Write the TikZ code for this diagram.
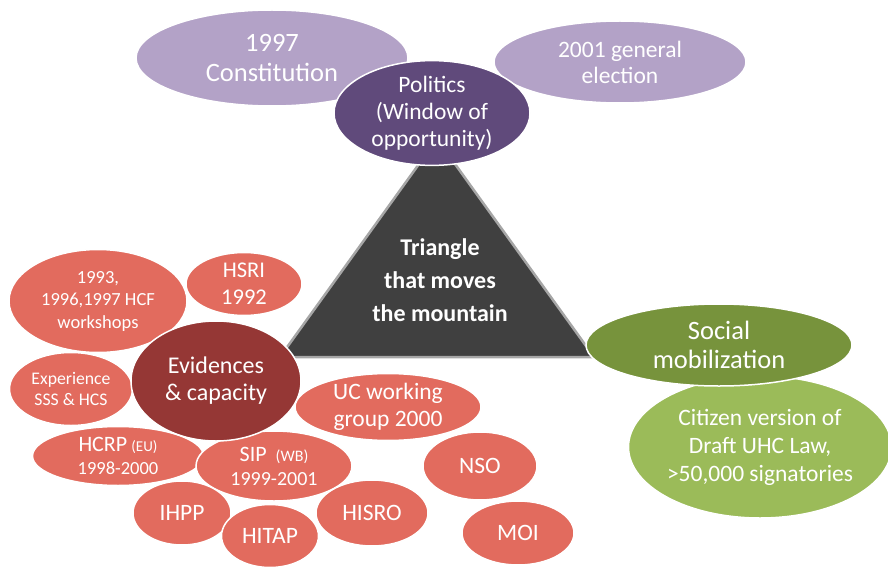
\documentclass[tikz,border=0pt]{standalone}
\usepackage{fontspec}
\setmainfont{Carlito}
\usetikzlibrary{shapes.geometric}

\definecolor{polidark}{HTML}{604A7B}
\definecolor{polilight}{HTML}{B3A2C7}
\definecolor{evidark}{HTML}{953735}
\definecolor{evilight}{HTML}{E26B5E}
\definecolor{socdark}{HTML}{77933C}
\definecolor{soclight}{HTML}{9BBB59}
\definecolor{trifill}{HTML}{404040}
\definecolor{triedge}{HTML}{A6A6A6}

\newcommand{\fsz}[2]{\fontsize{#1}{#2}\selectfont}

\begin{document}
\begin{tikzpicture}[x=1pt, y=-1pt,
    bubble/.style={ellipse, draw=white, line width=1.5pt, text=white, align=center, inner sep=0pt},
    small/.style={bubble, fill=evilight, font=\fsz{23.5}{27}}]
    \useasboundingbox (0, 0) rectangle (888, 567);

    % triangle in the middle
    \coordinate (apex) at (437, 139);
    \coordinate (bl) at (280, 357);
    \coordinate (br) at (594, 357);
    \filldraw[fill=trifill, draw=triedge, line width=2.5pt, line join=round] (apex) -- (bl) -- (br) -- cycle;
    \node at (440, 280) [align=center, text=white, font=\fsz{24}{33}\bfseries] (tri) {Triangle\\that moves\\the mountain};

    % politics
    \node at (272, 58) [bubble, fill=polilight, minimum width=272, minimum height=96, font=\fsz{26.5}{30}] (cons) {1997\\Constitution};
    \node at (620, 62) [bubble, fill=polilight, minimum width=252, minimum height=82, font=\fsz{23.5}{26}] (elec) {2001 general\\election};
    \node at (432, 113) [bubble, fill=polidark, minimum width=196, minimum height=102, font=\fsz{23.5}{27}] (poli) {Politics\\(Window of\\opportunity)};

    % evidences & capacity
    \node at (98, 301) [small, minimum width=178, minimum height=103, font=\fsz{18.5}{22.5}] (hcf) {1993,\\1996,1997 HCF\\workshops};
    \node at (244, 284) [small, minimum width=116, minimum height=63, font=\fsz{22.5}{27}] (hsri) {HSRI\\1992};
    \node at (71, 389) [small, minimum width=123, minimum height=73, font=\fsz{17.7}{21}] (sss) {Experience\\SSS \& HCS};
    \node at (118, 456) [small, minimum width=171, minimum height=59, font=\fsz{18.5}{23}] (hcrp) {{\fsz{22}{23}HCRP} {\fsz{15}{18}(EU)}\\1998-2000};
    \node at (274, 466) [small, minimum width=156, minimum height=70, font=\fsz{20}{24}] (sip) {{\fsz{22}{24}SIP}\ \ {\fsz{16}{18}(WB)}\\1999-2001};
    \node at (182, 513) [small, minimum width=98, minimum height=64] (ihpp) {IHPP};
    \node at (270, 536) [small, minimum width=97, minimum height=63] (hitap) {HITAP};
    \node at (372, 513) [small, minimum width=112, minimum height=66] (hisro) {HISRO};
    \node at (388, 407) [small, minimum width=186, minimum height=66] (uc) {UC working\\group 2000};
    \node at (480, 466) [small, minimum width=114, minimum height=68] (nso) {NSO};
    \node at (518, 533) [small, minimum width=112, minimum height=64] (moi) {MOI};
    \node at (216, 381) [bubble, fill=evidark, minimum width=170, minimum height=120, font=\fsz{24}{27}] (evi) {Evidences\\\& capacity};

    % social mobilization
    \node at (760, 447) [bubble, fill=soclight, minimum width=262, minimum height=142, font=\fsz{23.5}{28}] (cit) {Citizen version of\\Draft UHC Law,\\>50,000 signatories};
    \node at (719, 345) [bubble, fill=socdark, minimum width=266, minimum height=82, font=\fsz{26.5}{29}] (soc) {Social\\mobilization};
\end{tikzpicture}
\end{document}
